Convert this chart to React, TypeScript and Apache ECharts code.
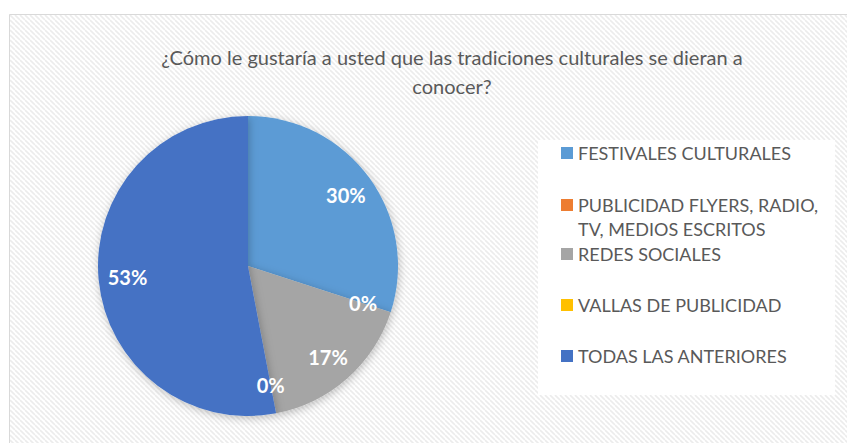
import React, { useEffect, useRef } from "react";
import * as echarts from "echarts";

const titleText = "¿Cómo le gustaría a usted que las tradiciones culturales se dieran a\nconocer?";
const categories = [
  "FESTIVALES CULTURALES",
  "PUBLICIDAD FLYERS, RADIO, TV, MEDIOS ESCRITOS",
  "REDES SOCIALES",
  "VALLAS DE PUBLICIDAD",
  "TODAS LAS ANTERIORES",
];
const values = [30, 0, 17, 0, 53];
const colors = ["#5B9BD5", "#ED7D31", "#A5A5A5", "#FFC000", "#4472C4"];
const legendCenters = [153, 205, 254, 305, 356];

function makePattern(): HTMLCanvasElement {
  const c = document.createElement("canvas");
  const s = 5;
  c.width = s;
  c.height = s;
  const ctx = c.getContext("2d")!;
  ctx.fillStyle = "#ffffff";
  ctx.fillRect(0, 0, s, s);
  ctx.strokeStyle = "#ececec";
  ctx.lineWidth = 1.6;
  for (const off of [-s, 0, s]) {
    ctx.beginPath();
    ctx.moveTo(off, 0);
    ctx.lineTo(off + s, s);
    ctx.stroke();
  }
  return c;
}

export default function App() {
  const ref = useRef<HTMLDivElement>(null);
  useEffect(() => {
    if (!ref.current) return;
    const chart = echarts.init(ref.current, undefined, { renderer: "svg" });
    const font = "Lato, 'Open Sans', sans-serif";
    const data = categories.map((name, i) => ({
      name,
      value: values[i],
      itemStyle: { color: colors[i] },
    }));
    const legends = categories.map((name, i) => {
      const twoLine = name.startsWith("PUBLICIDAD");
      return {
        data: [name],
        left: 561,
        top: twoLine ? legendCenters[i] - 36 : legendCenters[i] - 12,
        padding: 0,
        orient: "vertical",
        icon: "rect",
        itemWidth: 12,
        itemHeight: 12,
        selectedMode: false,
        formatter: twoLine ? () => " \nPUBLICIDAD FLYERS, RADIO,\nTV, MEDIOS ESCRITOS" : undefined,
        textStyle: {
          color: "#595959",
          fontFamily: font,
          fontSize: 18,
          lineHeight: 24,
        },
      };
    });
    chart.setOption({
      animation: false,
      graphic: [
        {
          type: "rect",
          z: -10,
          silent: true,
          shape: { x: 9.5, y: 14.5, width: 860, height: 450 },
          style: { fill: { image: makePattern(), repeat: "repeat" } as any, stroke: "#d9d9d9", lineWidth: 1 },
        },
        {
          type: "rect",
          z: -5,
          silent: true,
          shape: { x: 538, y: 140, width: 297, height: 255 },
          style: { fill: "#ffffff" },
        },
      ],
      title: {
        text: titleText,
        left: 452,
        top: 42,
        padding: 0,
        textAlign: "center",
        textStyle: {
          color: "#595959",
          fontFamily: font,
          fontSize: 20,
          fontWeight: "normal",
          lineHeight: 29,
        },
      },
      legend: legends,
      series: [
        {
          type: "pie",
          center: [248, 266],
          radius: [0, 150],
          startAngle: 90,
          clockwise: true,
          silent: true,
          label: { show: false },
          labelLine: { show: false },
          itemStyle: {
            borderWidth: 0,
            shadowBlur: 8,
            shadowOffsetX: 1,
            shadowOffsetY: 2,
            shadowColor: "rgba(0,0,0,0.25)",
          },
          data,
        },
        {
          type: "pie",
          center: [248, 266],
          radius: [86, 150],
          startAngle: 90,
          clockwise: true,
          silent: true,
          z: 3,
          itemStyle: { color: "rgba(0,0,0,0)", borderWidth: 0 },
          label: {
            show: true,
            position: "inside",
            formatter: "{c}%",
            color: "#ffffff",
            fontFamily: font,
            fontWeight: "bold",
            fontSize: 20,
          },
          labelLine: { show: false },
          data: categories.map((name, i) => ({ name, value: values[i] })),
        },
      ],
    });
    return () => chart.dispose();
  }, []);
  return (
    <div
      ref={ref}
      style={{ position: "fixed", left: 0, top: 0, width: 847, height: 443, background: "#ffffff" }}
    />
  );
}
